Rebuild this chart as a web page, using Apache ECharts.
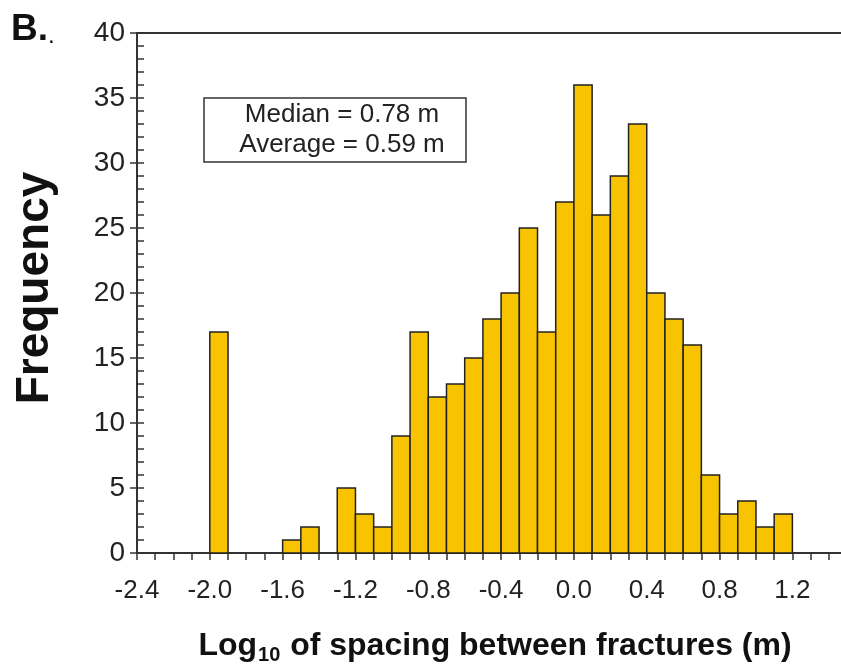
<!DOCTYPE html>
<html>
<head>
<meta charset="utf-8">
<script src="https://cdn.jsdelivr.net/npm/echarts@6/dist/echarts.min.js"></script>
<style>
  html, body { margin: 0; padding: 0; background: #fff; }
  #chart { width: 841px; height: 666px; }
</style>
</head>
<body>
<div id="chart"></div>
<script>
// Histogram of log10 fracture spacing (bins of 0.1, left edges)
const binWidth = 0.1;
const binLeft = [-2.0, -1.6, -1.5, -1.3, -1.2, -1.1, -1.0, -0.9, -0.8, -0.7,
                 -0.6, -0.5, -0.4, -0.3, -0.2, -0.1, 0.0, 0.1, 0.2, 0.3,
                 0.4, 0.5, 0.6, 0.7, 0.8, 0.9, 1.0, 1.1];
const counts = [17, 1, 2, 5, 3, 2, 9, 17, 12, 13,
                15, 18, 20, 25, 17, 27, 36, 26, 29, 33,
                20, 18, 16, 6, 3, 4, 2, 3];
const xMin = -2.4, xMax = 1.5, xStep = 0.1, xLabelStep = 0.4, xLabelLast = 1.2;
const yMin = 0, yMax = 40, yMajor = 5, yMinor = 1;
const statLines = ['Median = 0.78 m', 'Average = 0.59 m'];

const font = '"Liberation Sans", Arial, Helvetica, sans-serif';
const ink = '#222';
const axisColor = '#333';

const data = binLeft.map((x, i) => [x, +(x + binWidth).toFixed(2), counts[i]]);

const chart = echarts.init(document.getElementById('chart'), null, { renderer: 'canvas' });

const xLabelFmt = v => {
  const k = Math.round((v - xMin) * 10);
  const every = Math.round(xLabelStep * 10);
  if (k % every !== 0 || v > xLabelLast + 0.05) return '';
  return v.toFixed(1);
};

chart.setOption({
  animation: false,
  backgroundColor: '#fff',
  grid: { left: 137, top: 33, width: 710, height: 520, outerBoundsMode: 'none', containLabel: false },
  xAxis: [{
    type: 'value', min: xMin, max: xMax, interval: xStep, position: 'bottom',
    axisLine: { show: true, onZero: false, lineStyle: { color: axisColor, width: 2 } },
    axisTick: { show: true, inside: false, length: 7, lineStyle: { color: axisColor, width: 1.5 } },
    axisLabel: { show: true, formatter: xLabelFmt, margin: 25, color: ink, fontSize: 26, fontFamily: font, showMinLabel: true, showMaxLabel: true, hideOverlap: false },
    splitLine: { show: false }
  }, {
    type: 'value', min: xMin, max: xMax, interval: xStep, position: 'top',
    axisLine: { show: true, onZero: false, lineStyle: { color: axisColor, width: 2 } },
    axisTick: { show: false }, axisLabel: { show: false }, splitLine: { show: false }
  }],
  yAxis: [{
    type: 'value', min: yMin, max: yMax, interval: yMinor, position: 'left',
    axisLine: { show: true, onZero: false, lineStyle: { color: axisColor, width: 2 } },
    axisTick: { show: true, inside: true, length: 7, lineStyle: { color: axisColor, width: 1.5 } },
    axisLabel: { show: false }, splitLine: { show: false }
  }, {
    type: 'value', min: yMin, max: yMax, interval: yMajor, position: 'left', offset: 0,
    axisLine: { show: false, onZero: false },
    axisTick: { show: true, inside: false, length: 7, lineStyle: { color: axisColor, width: 1.5 } },
    axisLabel: { show: true, margin: 12, color: ink, fontSize: 28, fontFamily: font },
    splitLine: { show: false }
  }],
  series: [{
    type: 'custom',
    xAxisIndex: 0, yAxisIndex: 0,
    encode: { x: [0, 1], y: 2 },
    data: data,
    renderItem: (params, api) => {
      const a = api.coord([api.value(0), api.value(2)]);
      const b = api.coord([api.value(1), 0]);
      return {
        type: 'rect',
        shape: { x: a[0], y: a[1], width: b[0] - a[0], height: b[1] - a[1] },
        style: { fill: '#F8C300', stroke: '#222', lineWidth: 1.5 }
      };
    }
  }],
  graphic: [
    {
      type: 'text', left: 11, top: 11,
      style: {
        text: '{b|B.}{d|.}',
        rich: {
          b: { fontFamily: font, fontWeight: 'bold', fontSize: 37, fill: '#111', lineHeight: 40, verticalAlign: 'bottom' },
          d: { fontFamily: font, fontWeight: 'normal', fontSize: 24, fill: '#111', lineHeight: 40, verticalAlign: 'bottom' }
        }
      }
    },
    {
      type: 'rect', shape: { x: 204, y: 98, width: 262, height: 64 },
      style: { fill: '#fff', stroke: '#333', lineWidth: 1.5 }
    },
    {
      type: 'text', x: 342, y: 130,
      style: {
        text: statLines.join('\n'), align: 'center', verticalAlign: 'middle',
        fontFamily: font, fontSize: 26, lineHeight: 30, fill: ink
      }
    },
    {
      type: 'text', x: 35, y: 288, rotation: Math.PI / 2,
      style: {
        text: 'Frequency', align: 'center', verticalAlign: 'middle',
        fontFamily: font, fontWeight: 'bold', fontSize: 46, fill: '#111'
      }
    },
    {
      type: 'text', x: 495, y: 646,
      style: {
        text: '{b|Log}{s|10}{b| of spacing between fractures (m)}',
        align: 'center', verticalAlign: 'middle',
        rich: {
          b: { fontFamily: font, fontWeight: 'bold', fontSize: 32, fill: '#111', lineHeight: 38, verticalAlign: 'middle' },
          s: { fontFamily: font, fontWeight: 'bold', fontSize: 20, fill: '#111', lineHeight: 38, verticalAlign: 'bottom', padding: [14, 1, 0, 1] }
        }
      }
    }
  ]
});
</script>
</body>
</html>
